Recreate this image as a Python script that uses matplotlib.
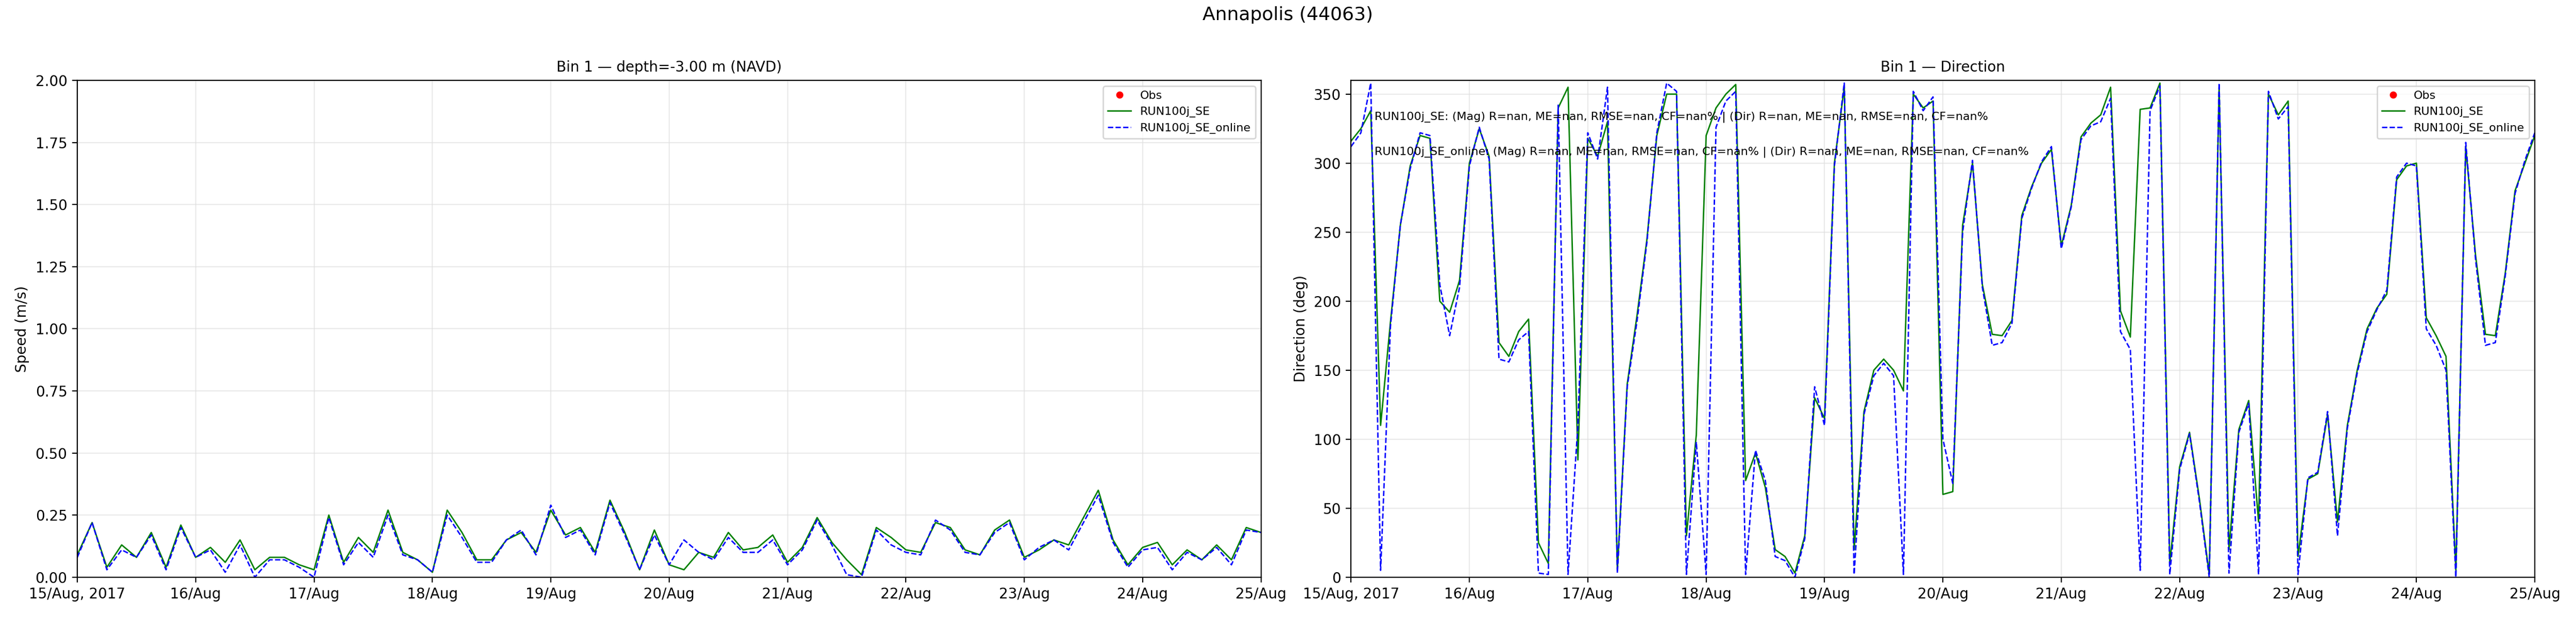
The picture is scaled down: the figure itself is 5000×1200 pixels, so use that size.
import numpy as np
import pandas as pd
import matplotlib
matplotlib.use("Agg")
import matplotlib.pyplot as plt
import matplotlib.dates as mdates

# speed, every 3 hours from 15/Aug 00:00 to 25/Aug 00:00
speed_se = [
    0.09, 0.22, 0.04, 0.13, 0.08, 0.18, 0.04, 0.21,
    0.08, 0.12, 0.06, 0.15, 0.03, 0.08, 0.08, 0.05,
    0.03, 0.25, 0.06, 0.16, 0.10, 0.27, 0.10, 0.07,
    0.02, 0.27, 0.18, 0.07, 0.07, 0.15, 0.18, 0.10,
    0.27, 0.17, 0.20, 0.10, 0.31, 0.18, 0.03, 0.19,
    0.05, 0.03, 0.10, 0.08, 0.18, 0.11, 0.12, 0.17,
    0.06, 0.12, 0.24, 0.14, 0.07, 0.01, 0.20, 0.16,
    0.11, 0.10, 0.22, 0.20, 0.11, 0.09, 0.19, 0.23,
    0.08, 0.11, 0.15, 0.13, 0.24, 0.35, 0.15, 0.05,
    0.12, 0.14, 0.05, 0.11, 0.07, 0.13, 0.07, 0.20,
    0.18,
]
speed_online = [
    0.08, 0.22, 0.03, 0.11, 0.08, 0.17, 0.03, 0.20,
    0.08, 0.11, 0.02, 0.13, 0.00, 0.07, 0.07, 0.04,
    0.00, 0.24, 0.05, 0.14, 0.08, 0.25, 0.09, 0.07,
    0.02, 0.25, 0.16, 0.06, 0.06, 0.15, 0.19, 0.09,
    0.29, 0.16, 0.19, 0.09, 0.30, 0.17, 0.03, 0.17,
    0.05, 0.15, 0.10, 0.07, 0.16, 0.10, 0.10, 0.15,
    0.05, 0.11, 0.23, 0.13, 0.01, 0.00, 0.19, 0.13,
    0.10, 0.09, 0.23, 0.19, 0.10, 0.09, 0.18, 0.22,
    0.07, 0.12, 0.15, 0.11, 0.22, 0.33, 0.14, 0.04,
    0.11, 0.12, 0.03, 0.10, 0.07, 0.12, 0.05, 0.19,
    0.18,
]

# direction, every 2 hours
dir_se = [
    316, 325, 338, 110, 185, 255, 298, 320, 318, 200, 192, 215,
    300, 325, 305, 170, 160, 178, 187, 25, 10, 340, 355, 85,
    318, 305, 330, 5, 140, 190, 245, 320, 350, 350, 30, 103,
    320, 340, 350, 357, 70, 90, 65, 20, 15, 3, 30, 130,
    115, 300, 355, 20, 120, 150, 158, 150, 135, 350, 340, 345,
    60, 62, 255, 300, 212, 176, 175, 186, 262, 283, 300, 310,
    240, 269, 319, 329, 335, 355, 193, 174, 339, 340, 358, 10,
    80, 105, 57, 2, 355, 20, 107, 128, 40, 350, 335, 345,
    15, 71, 75, 118, 40, 110, 150, 180, 195, 205, 288, 298,
    300, 188, 175, 160, 5, 312, 233, 176, 175, 220, 280, 300,
    320,
]
dir_online = [
    312, 322, 358, 5, 182, 255, 296, 322, 320, 212, 175, 210,
    298, 326, 303, 158, 156, 172, 178, 3, 2, 342, 2, 110,
    322, 303, 355, 3, 138, 186, 243, 322, 358, 352, 2, 98,
    2, 326, 345, 352, 2, 92, 70, 15, 12, 0, 28, 138,
    110, 298, 358, 2, 118, 146, 155, 146, 2, 352, 338, 348,
    100, 68, 250, 302, 210, 168, 170, 184, 260, 282, 301, 312,
    238, 268, 317, 327, 330, 347, 178, 165, 5, 338, 356, 2,
    78, 104, 55, 0, 358, 3, 105, 126, 2, 352, 332, 341,
    2, 72, 76, 120, 30, 108, 148, 178, 194, 208, 290, 300,
    298, 180, 168, 150, 0, 315, 230, 168, 170, 218, 278, 302,
    322,
]

start = pd.Timestamp("2017-08-15")
t_speed = pd.date_range(start, periods=len(speed_se), freq="3h")
t_dir = pd.date_range(start, periods=len(dir_se), freq="2h")
day_ticks = pd.date_range(start, periods=11, freq="D")
tick_labels = ["15/Aug, 2017"] + [d.strftime("%d/%b") for d in day_ticks[1:]]

stats_se = "RUN100j_SE: (Mag) R=nan, ME=nan, RMSE=nan, CF=nan% | (Dir) R=nan, ME=nan, RMSE=nan, CF=nan%"
stats_online = "RUN100j_SE_online: (Mag) R=nan, ME=nan, RMSE=nan, CF=nan% | (Dir) R=nan, ME=nan, RMSE=nan, CF=nan%"

fig, (ax1, ax2) = plt.subplots(1, 2, figsize=(25, 6), dpi=200)
fig.subplots_adjust(left=0.030, right=0.984, bottom=0.066, top=0.87, wspace=0.076)
fig.suptitle("Annapolis (44063)", fontsize=13, y=0.99)

for ax in (ax1, ax2):
    ax.plot([], [], "o", color="red", markersize=4, label="Obs")

ax1.plot(t_speed, speed_se, color="green", lw=1, label="RUN100j_SE")
ax1.plot(t_speed, speed_online, color="blue", lw=1, ls="--", label="RUN100j_SE_online")
ax1.set_ylim(0, 2)
ax1.set_ylabel("Speed (m/s)")
ax1.set_title("Bin 1 — depth=-3.00 m (NAVD)", fontsize=10)

ax2.plot(t_dir, dir_se, color="green", lw=1, label="RUN100j_SE")
ax2.plot(t_dir, dir_online, color="blue", lw=1, ls="--", label="RUN100j_SE_online")
ax2.set_ylim(0, 360)
ax2.set_ylabel("Direction (deg)")
ax2.set_title("Bin 1 — Direction", fontsize=10)
ax2.text(0.02, 0.926, stats_se, transform=ax2.transAxes, fontsize=8, va="center")
ax2.text(0.02, 0.856, stats_online, transform=ax2.transAxes, fontsize=8, va="center")

for ax in (ax1, ax2):
    ax.set_xlim(day_ticks[0], day_ticks[-1])
    ax.set_xticks(day_ticks)
    ax.set_xticklabels(tick_labels)
    ax.grid(True, color="#dddddd", alpha=0.6)
    ax.legend(loc="upper right", fontsize=8)

fig.savefig("out.png")
